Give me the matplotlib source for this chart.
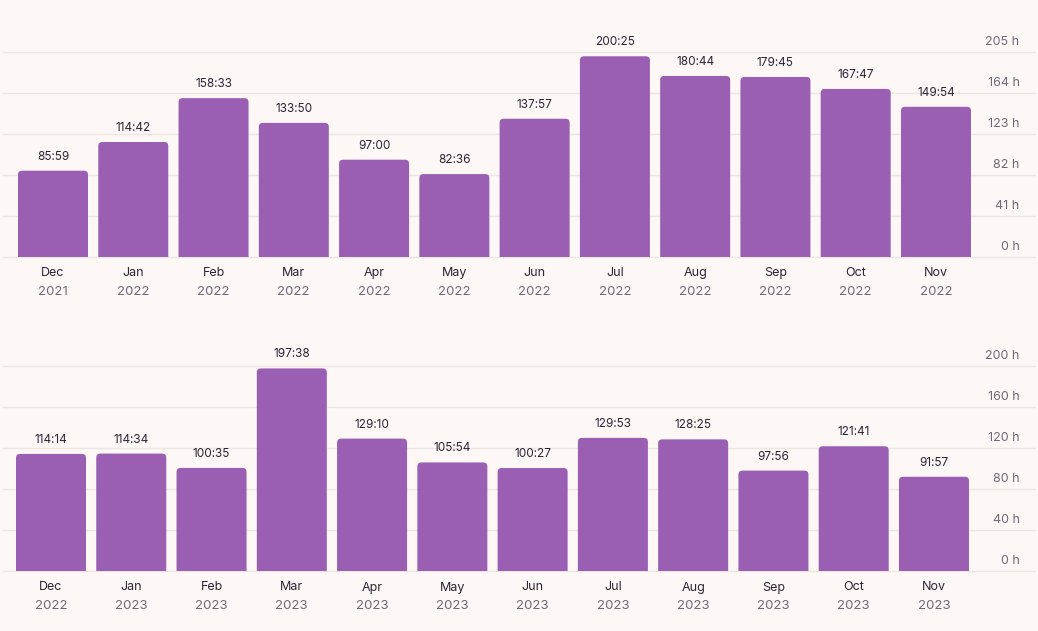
import matplotlib.pyplot as plt
from matplotlib.patches import FancyBboxPatch
from matplotlib.transforms import offset_copy

# dados: horas por mes (H:MM)
meses1 = ["Dec", "Jan", "Feb", "Mar", "Apr", "May", "Jun", "Jul", "Aug", "Sep", "Oct", "Nov"]
anos1 = ["2021"] + ["2022"] * 11
tempos1 = ["85:59", "114:42", "158:33", "133:50", "97:00", "82:36",
           "137:57", "200:25", "180:44", "179:45", "167:47", "149:54"]
ticks1 = [0, 41, 82, 123, 164, 205]

meses2 = ["Dec", "Jan", "Feb", "Mar", "Apr", "May", "Jun", "Jul", "Aug", "Sep", "Oct", "Nov"]
anos2 = ["2022"] + ["2023"] * 11
tempos2 = ["114:14", "114:34", "100:35", "197:38", "129:10", "105:54",
           "100:27", "129:53", "128:25", "97:56", "121:41", "91:57"]
ticks2 = [0, 40, 80, 120, 160, 200]

FUNDO = "#fdf8f5"
BARRA = "#9a5eb2"
GRADE = "#ece6e2"
TEXTO = "#2a2436"
CINZA = "#6f6879"

plt.rcParams['font.family'] = ['Inter', 'DejaVu Sans']

W, H = 1038, 631
fig = plt.figure(figsize=(W / 100, H / 100), dpi=100, facecolor=FUNDO)

ESP = 80.27  # px entre barras


def horas(t):
    h, m = t.split(":")
    return int(h) + int(m) / 60


def painel(y0_px, x_dec_px, meses, anos, tempos, ticks):
    topo = ticks[-1]
    px_y = 205 / topo  # px por hora
    ax = fig.add_axes([3 / W, (H - y0_px) / H, 1032 / W, 205 / H])
    ax.set_facecolor(FUNDO)
    a = -(x_dec_px - 3) / ESP
    ax.set_xlim(a, a + 1032 / ESP)
    ax.set_ylim(0, topo)
    for s in ax.spines.values():
        s.set_visible(False)
    ax.set_xticks([])
    ax.set_yticks([])

    for t in ticks:
        ax.axhline(t, color=GRADE, lw=1, zorder=0, clip_on=False)
        tr = offset_copy(ax.get_yaxis_transform(), fig=fig, y=10, units='dots')
        ax.text(0.985, t, f"{t} h", transform=tr, ha='right', va='center',
                fontsize=9, color=CINZA, clip_on=False)

    larg = 70 / ESP
    r = 4 / ESP
    for i, tmp in enumerate(tempos):
        v = horas(tmp)
        p = FancyBboxPatch((i - larg / 2, -10), larg, v + 10,
                           boxstyle=f"round,pad=0,rounding_size={r}",
                           mutation_aspect=4 / px_y / r,
                           facecolor=BARRA, edgecolor='none', zorder=2)
        ax.add_patch(p)
        tr = offset_copy(ax.transData, fig=fig, y=14, units='dots')
        ax.text(i, v, tmp, transform=tr, ha='center', va='center',
                fontsize=8.5, color=TEXTO, clip_on=False)
        tr = offset_copy(ax.transData, fig=fig, y=-16.5, units='dots')
        ax.text(i, 0, meses[i], transform=tr, ha='center', va='center',
                fontsize=9, color=TEXTO, clip_on=False)
        tr = offset_copy(ax.transData, fig=fig, y=-35, units='dots')
        ax.text(i, 0, anos[i], transform=tr, ha='center', va='center',
                fontsize=9.5, color=CINZA, clip_on=False)
    return ax


painel(256.7, 53, meses1, anos1, tempos1, ticks1)
painel(571, 51, meses2, anos2, tempos2, ticks2)

fig.savefig("out.png", dpi=100, facecolor=FUNDO)
